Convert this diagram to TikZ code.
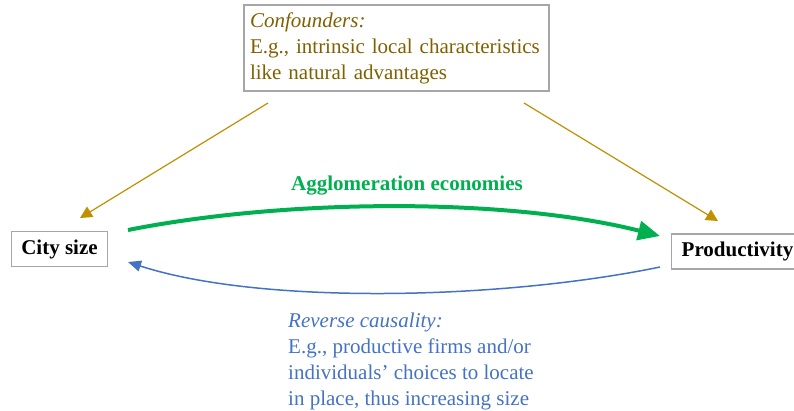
\documentclass[tikz,border=0pt]{standalone}
\usepackage{fontspec}
\setmainfont{Liberation Serif}
\usetikzlibrary{arrows.meta}

\definecolor{confText}{HTML}{7F6000}
\definecolor{confArrow}{HTML}{BF9000}
\definecolor{agglGreen}{HTML}{00B050}
\definecolor{revBlue}{HTML}{4472C4}
\definecolor{boxGray}{HTML}{A6A6A6}

\tikzset{
  every node/.style={font=\fontsize{21}{26}\selectfont},
  varbox/.style={draw=boxGray, line width=1.5pt, inner xsep=10pt,
    minimum height=35pt, font=\fontsize{21}{26}\selectfont\bfseries},
  confarrow/.style={draw=confArrow, line width=1.2pt,
    -{Triangle[length=12pt,width=12pt]}},
  revarrow/.style={draw=revBlue, line width=1.5pt,
    -{Triangle[length=13pt,width=11pt]}}
}

\begin{document}
\begin{tikzpicture}[x=1pt,y=-1pt]

    \useasboundingbox (0,0) rectangle (794,410);

    % the two variables
    \node[varbox, minimum width=95pt] (city) at (59.5,249) {City size};
    \node[varbox, minimum width=129pt] (prod) at (737.5,251.5) {Productivity};

    % confounders box
    \node[draw=boxGray, line width=1.5pt, text=confText, text width=293pt,
          align=left, inner xsep=6pt, minimum height=86pt] (conf) at (396.5,48)
        {\textit{Confounders:}\\E.g., intrinsic local characteristics\\like natural advantages};

    \coordinate (confL) at (268,103);
    \coordinate (confR) at (524,103);
    \coordinate (cityTop) at (80,218);
    \coordinate (prodTop) at (718,221);

    \draw[confarrow] (confL) -- (cityTop);
    \draw[confarrow] (confR) -- (prodTop);

    % agglomeration economies
    \coordinate (agglStart) at (128,230);
    \coordinate (agglEnd) at (660,236);
    \draw[agglGreen, line width=4pt, -{Triangle[length=22pt,width=19pt]}]
        (agglStart) .. controls (290,198) and (510,198) .. (agglEnd);
    \node[text=agglGreen, font=\fontsize{21}{26}\selectfont\bfseries] (aggl) at (407,186)
        {Agglomeration economies};

    % reverse causality
    \coordinate (revStart) at (660,267);
    \coordinate (revEnd) at (128,262);
    \draw[revarrow] (revStart) .. controls (500,300) and (260,305) .. (revEnd);
    \node[text=revBlue, align=left, inner sep=0pt, anchor=north west] (rev) at (288,312.5)
        {\textit{Reverse causality:}\\E.g., productive firms and/or\\individuals’ choices to locate\\in place, thus increasing size};

\end{tikzpicture}
\end{document}
